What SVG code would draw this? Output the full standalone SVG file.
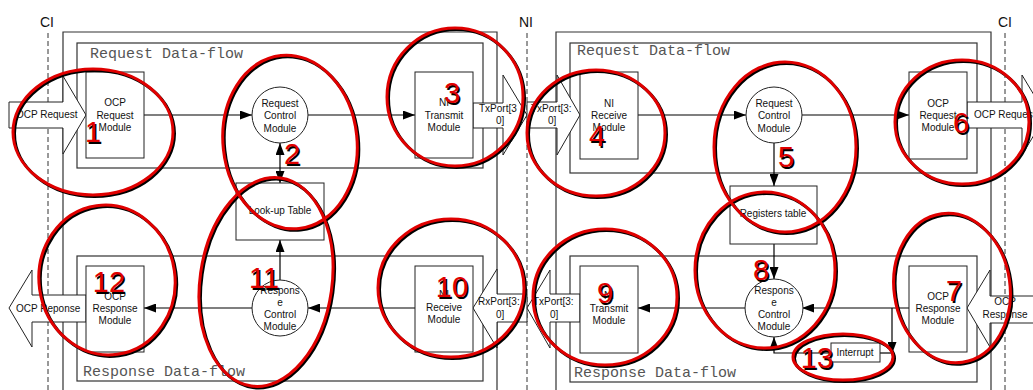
<svg xmlns="http://www.w3.org/2000/svg" xmlns:xlink="http://www.w3.org/1999/xlink" width="1033" height="390" viewBox="0 0 1033 390">
<style>
.frame{fill:none;stroke:#333;stroke-width:1.2}
.box{fill:#fff;stroke:#222;stroke-width:1}
.blk{fill:#fff;stroke:#222;stroke-width:1}
.t{font-family:"Liberation Sans",Arial,sans-serif;font-size:10px;fill:#111;text-anchor:middle}
.tl{font-family:"Liberation Sans",Arial,sans-serif;font-size:10px;fill:#111}
.mono{font-family:"Liberation Mono","Courier New",monospace;font-size:15px;fill:#555}
.lab{font-family:"Liberation Sans",Arial,sans-serif;font-size:14px;fill:#111}
.dash{stroke:#333;stroke-width:1;stroke-dasharray:5,3;fill:none}
.c{fill:none;stroke:#000;stroke-width:1.2}
.arr{marker-end:url(#ah)}
.num{font-family:"Liberation Sans",Arial,sans-serif;font-size:29px;text-anchor:middle}
</style>
<defs>
<marker id="ah" viewBox="0 0 12 9" refX="12" refY="4.5" markerWidth="12" markerHeight="9" markerUnits="userSpaceOnUse" orient="auto-start-reverse">
<path d="M0,0 L12,4.5 L0,9 z" fill="#000"/>
</marker>
<g id="ells">
<ellipse cx="93" cy="132" rx="80" ry="63"/>
<ellipse cx="290" cy="142" rx="67" ry="87" transform="rotate(-6 290 142)"/>
<ellipse cx="455" cy="97" rx="68" ry="69"/>
<ellipse cx="596" cy="133" rx="69" ry="63"/>
<ellipse cx="785" cy="147" rx="71" ry="85"/>
<ellipse cx="962" cy="122" rx="67" ry="62"/>
<ellipse cx="952" cy="288" rx="58" ry="75" transform="rotate(-8 952 288)"/>
<ellipse cx="765" cy="270" rx="70" ry="78"/>
<ellipse cx="605" cy="297" rx="72" ry="68"/>
<ellipse cx="451" cy="288" rx="73" ry="69"/>
<ellipse cx="266" cy="282" rx="66" ry="105" transform="rotate(8 266 282)"/>
<ellipse cx="107" cy="280" rx="68" ry="75" transform="rotate(-8 107 280)"/>
<ellipse cx="843" cy="357" rx="50" ry="23"/>
</g>
<g id="nums">
<text class="num" x="93" y="142">1</text>
<text class="num" x="292" y="164">2</text>
<text class="num" x="452" y="103">3</text>
<text class="num" x="597" y="146">4</text>
<text class="num" x="786" y="167">5</text>
<text class="num" x="961" y="133">6</text>
<text class="num" x="954" y="301" font-size="33">7</text>
<text class="num" x="761" y="280">8</text>
<text class="num" x="605" y="303">9</text>
<text class="num" x="452" y="297" font-size="32">10</text>
<text class="num" x="264" y="288">11</text>
<text class="num" x="109" y="292">12</text>
<text class="num" x="817" y="368">13</text>
</g>
</defs>
<rect width="1033" height="390" fill="#fff"/>

<g id="boundaries">
<text class="lab" x="40" y="27">CI</text>
<line class="dash" x1="48" y1="33" x2="48" y2="390"/>
<text class="lab" x="519" y="27">NI</text>
<line class="dash" x1="527" y1="33" x2="527" y2="390"/>
<text class="lab" x="998" y="27">CI</text>
<line class="dash" x1="1005" y1="33" x2="1005" y2="390"/>
</g>

<g id="frames">
<path class="frame" d="M63,391 V32 H497 V391"/>
<rect class="frame" x="77" y="43" width="406" height="125"/>
<text class="mono" x="90" y="58">Request Data-flow</text>
<rect class="frame" x="77" y="256" width="406" height="125"/>
<text class="mono" x="83" y="376">Response Data-flow</text>
<path class="frame" d="M556,391 V32 H991 V391"/>
<rect class="frame" x="570" y="43" width="407" height="130"/>
<text class="mono" x="577" y="55">Request Data-flow</text>
<rect class="frame" x="570" y="256" width="407" height="126"/>
<text class="mono" x="574" y="377">Response Data-flow</text>
</g>

<g id="ports">
<polygon class="blk" points="9,102 63,102 63,76 86,115 63,154 63,128 9,128"/>
<text class="tl" x="16" y="118">OCP Request</text>
<polygon class="blk" points="473,103 503,103 503,75 527,115 503,155 503,128 473,128"/>
<text class="tl" x="479" y="112">TxPort[3</text>
<text class="tl" x="496" y="124">0]</text>
<polygon class="blk" points="527,102 557,102 557,75 580,115 557,155 557,128 527,128"/>
<text class="tl" x="531" y="112">TxPort[3:</text>
<text class="tl" x="548" y="124">0]</text>
<polygon class="blk" points="967,102 1022,102 1022,75 1046,115 1022,155 1022,128 967,128"/>
<text class="tl" x="974" y="118">OCP Request</text>
<polygon class="blk" points="9,308 32,270 32,295 86,295 86,322 32,322 32,347"/>
<text class="tl" x="16" y="312">OCP Reponse</text>
<polygon class="blk" points="473,308 497,269 497,294 527,294 527,322 497,322 497,348"/>
<text class="tl" x="478" y="305">RxPort[3:</text>
<text class="tl" x="496" y="318">0]</text>
<polygon class="blk" points="527,308 550,270 550,294 580,294 580,322 550,322 550,348"/>
<text class="tl" x="533" y="305">TxPort[3:</text>
<text class="tl" x="550" y="318">0]</text>
<polygon class="blk" points="967,308 990,270 990,296 1040,296 1040,323 990,323 990,347"/>
<text class="t" x="1005" y="305">OCP</text>
<text class="t" x="1005" y="318">Response</text>
</g>

<g id="connectors">
<line class="c arr" x1="144" y1="115" x2="252" y2="115"/>
<line class="c arr" x1="308" y1="115" x2="415" y2="115"/>
<line class="c" x1="280" y1="143" x2="280" y2="183" marker-start="url(#ah)" marker-end="url(#ah)"/>
<line class="c arr" x1="280" y1="280" x2="280" y2="240"/>
<line class="c arr" x1="415" y1="308" x2="308" y2="308"/>
<line class="c arr" x1="252" y1="308" x2="144" y2="308"/>
<line class="c arr" x1="638" y1="115" x2="746" y2="115"/>
<line class="c arr" x1="802" y1="115" x2="909" y2="115"/>
<line class="c arr" x1="774" y1="143" x2="774" y2="186"/>
<line class="c arr" x1="774" y1="244" x2="774" y2="279"/>
<line class="c arr" x1="909" y1="308" x2="802" y2="308"/>
<line class="c arr" x1="746" y1="308" x2="638" y2="308"/>
<polyline class="c arr" points="892,308 892,354"/>
<line class="c" x1="880" y1="353" x2="892" y2="353"/>
<polyline class="c arr" points="831,353 774,353 774,337"/>
</g>

<g id="n-ocp-req-l"><rect class="box" x="86" y="72" width="58" height="86"/>
<text class="t" x="115" y="106">OCP</text><text class="t" x="115" y="119">Request</text><text class="t" x="115" y="131">Module</text></g>
<g id="n-req-ctrl-l"><circle class="box" cx="280" cy="115" r="28"/>
<text class="t" x="280" y="107">Request</text><text class="t" x="280" y="119">Control</text><text class="t" x="280" y="132">Module</text></g>
<g id="n-ni-tx-l"><rect class="box" x="415" y="72" width="58" height="86"/>
<text class="t" x="444" y="106">NI</text><text class="t" x="444" y="119">Transmit</text><text class="t" x="444" y="131">Module</text></g>
<g id="n-lookup"><rect class="box" x="236" y="183" width="88" height="57"/>
<text class="t" x="280" y="214">Look-up Table</text></g>
<g id="n-ocp-resp-l"><rect class="box" x="86" y="266" width="58" height="86"/>
<text class="t" x="115" y="300">OCP</text><text class="t" x="115" y="312">Response</text><text class="t" x="115" y="324">Module</text></g>
<g id="n-resp-ctrl-l"><circle class="box" cx="280" cy="308" r="28"/>
<text class="t" x="280" y="294">Respons</text><text class="t" x="280" y="306">e</text><text class="t" x="280" y="318">Control</text><text class="t" x="280" y="330">Module</text></g>
<g id="n-ni-rx-l"><rect class="box" x="415" y="266" width="58" height="86"/>
<text class="t" x="444" y="298">NI</text><text class="t" x="444" y="311">Receive</text><text class="t" x="444" y="323">Module</text></g>

<g id="n-ni-rx-r"><rect class="box" x="580" y="72" width="58" height="87"/>
<text class="t" x="609" y="107">NI</text><text class="t" x="609" y="119">Receive</text><text class="t" x="609" y="131">Module</text></g>
<g id="n-req-ctrl-r"><circle class="box" cx="774" cy="115" r="28"/>
<text class="t" x="774" y="107">Request</text><text class="t" x="774" y="119">Control</text><text class="t" x="774" y="132">Module</text></g>
<g id="n-ocp-req-r"><rect class="box" x="909" y="72" width="58" height="87"/>
<text class="t" x="938" y="107">OCP</text><text class="t" x="938" y="119">Request</text><text class="t" x="938" y="131">Module</text></g>
<g id="n-registers"><rect class="box" x="730" y="186" width="87" height="58"/>
<text class="t" x="773" y="217">Registers table</text></g>
<g id="n-ni-tx-r"><rect class="box" x="580" y="266" width="58" height="87"/>
<text class="t" x="609" y="299">NI</text><text class="t" x="609" y="312">Transmit</text><text class="t" x="609" y="324">Module</text></g>
<g id="n-resp-ctrl-r"><circle class="box" cx="774" cy="308" r="29"/>
<text class="t" x="774" y="294">Respons</text><text class="t" x="774" y="306">e</text><text class="t" x="774" y="318">Control</text><text class="t" x="774" y="330">Module</text></g>
<g id="n-ocp-resp-r"><rect class="box" x="909" y="266" width="58" height="86"/>
<text class="t" x="938" y="300">OCP</text><text class="t" x="938" y="312">Response</text><text class="t" x="938" y="324">Module</text></g>
<g id="n-interrupt"><rect class="box" x="831" y="343" width="49" height="19"/>
<text class="t" x="855" y="356" font-size="9.5">Interrupt</text></g>

<g id="annotations" fill="none" stroke-width="3">
<use xlink:href="#ells" transform="translate(1.5,1.5)" stroke="#000"/>
<use xlink:href="#ells" stroke="#e00000"/>
</g>
<g id="numbers">
<use xlink:href="#nums" transform="translate(1.5,1.5)" fill="#000"/>
<use xlink:href="#nums" fill="#e00000"/>
</g>
</svg>
